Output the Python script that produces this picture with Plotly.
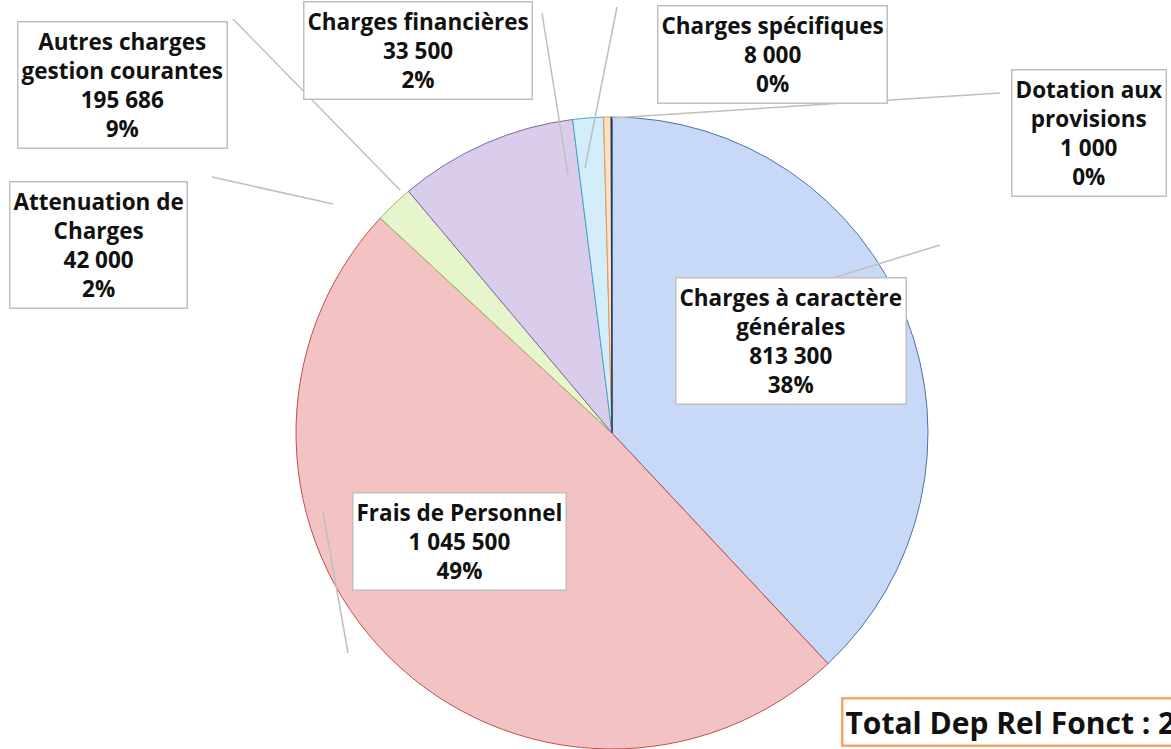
import plotly.graph_objects as go

W, H = 1171, 749

labels = [
    "Charges à caractère générales",
    "Frais de Personnel",
    "Attenuation de Charges",
    "Autres charges gestion courantes",
    "Charges financières",
    "Charges spécifiques",
    "Dotation aux provisions",
]
values = [813300, 1045500, 42000, 195686, 33500, 8000, 1000]
box_titles = [
    "Charges à caractère<br>générales",
    "Frais de Personnel",
    "Attenuation de<br>Charges",
    "Autres charges<br>gestion courantes",
    "Charges financières",
    "Charges spécifiques",
    "Dotation aux<br>provisions",
]
total_text = "Total Dep Rel Fonct : 2 138 986"

fills = ["#c8d9f8", "#f3c3c3", "#e6f5cc", "#dacdec", "#d3eefa", "#fde1c4", "#1f3864"]
edges = ["#4f6fae", "#c0504d", "#9bbb59", "#8064a2", "#4bacc6", "#f79646", "#1f3864"]

# label box centres and leader lines, in pixels
box_pos = [(791, 341), (459, 541), (98, 245), (122, 85), (418, 50), (772, 55), (1089, 133)]
leaders = [
    ((823, 281), (940, 245)),
    ((323, 512), (348, 653)),
    ((212, 177), (333, 204)),
    ((233, 19), (400, 190)),
    ((542, 13), (568, 175)),
    ((617, 7), (585, 168)),
    ((1000, 93), (612, 118)),
]


def px(x):
    return x / W


def py(y):
    return 1 - y / H


def fmt(v):
    return f"{v:,}".replace(",", " ")


total = sum(values)

fig = go.Figure(go.Pie(
    labels=labels,
    values=values,
    sort=False,
    direction="clockwise",
    rotation=0,
    marker=dict(colors=fills, line=dict(color=edges, width=1)),
    textinfo="none",
    hoverinfo="label+value+percent",
    domain=dict(x=[px(612 - 330), px(612 + 330)], y=[0, py(117)]),
    showlegend=False,
))

shapes = []
for (x0, y0), (x1, y1) in leaders:
    shapes.append(dict(type="line", xref="paper", yref="paper",
                       x0=px(x0), y0=py(y0), x1=px(x1), y1=py(y1),
                       line=dict(color="#bfbfbf", width=1.5)))

annotations = []
for t, v, (cx, cy) in zip(box_titles, values, box_pos):
    pct = round(v / total * 100)
    annotations.append(dict(
        x=px(cx), y=py(cy), xref="paper", yref="paper",
        xanchor="center", yanchor="middle",
        text=f"<b>{t}<br>{fmt(v)}<br>{pct}%</b>",
        showarrow=False, align="center",
        font=dict(family="Open Sans", size=22.5, color="#111111"),
        bgcolor="white", bordercolor="#bfbfbf", borderwidth=1.5, borderpad=3,
    ))

annotations.append(dict(
    x=px(841), y=py(722), xref="paper", yref="paper",
    xanchor="left", yanchor="middle",
    text=f"<b>{total_text}</b>", showarrow=False,
    font=dict(family="Open Sans", size=30, color="#111111"),
    bgcolor="white", bordercolor="#f0a868", borderwidth=2.5, borderpad=2,
))

fig.update_layout(
    width=W, height=H,
    margin=dict(l=0, r=0, t=0, b=0),
    paper_bgcolor="white", plot_bgcolor="white",
    shapes=shapes, annotations=annotations,
)

fig.write_html("out.html", config={"displayModeBar": False},
               post_script="document.body.style.margin='0px';")
